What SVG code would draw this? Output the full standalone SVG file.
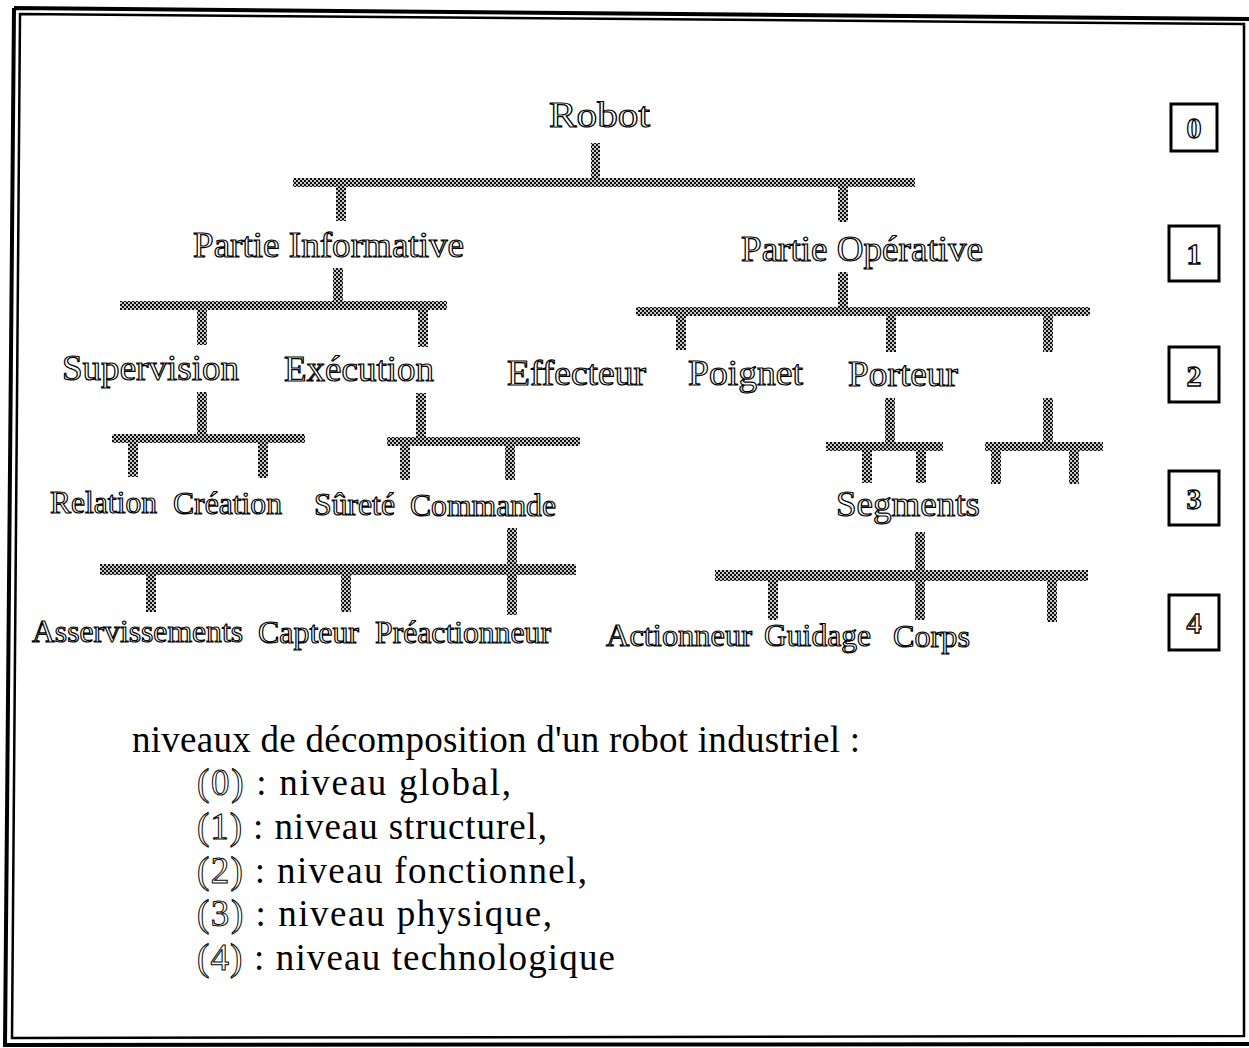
<svg xmlns="http://www.w3.org/2000/svg" width="1249" height="1048" viewBox="0 0 1249 1048">
<defs>
<pattern id="dither" width="4" height="4" patternUnits="userSpaceOnUse">
<rect width="4" height="4" fill="#c8c8c8"/>
<rect x="0" y="0" width="2" height="2" fill="#111"/>
<rect x="2" y="2" width="2" height="2" fill="#111"/>
</pattern>
</defs>
<style>
.bar{fill:url(#dither);}
.lbl{font-family:"Liberation Serif","Times New Roman",serif;fill:#fff;stroke:#000;stroke-width:1.2;}
.l1{font-size:36px;}
.l3{font-size:32px;}
.box{fill:#fff;stroke:#000;stroke-width:3;}
.dig{font-family:"Liberation Serif",serif;font-size:30px;font-weight:bold;fill:#fff;stroke:#000;stroke-width:1.3;text-anchor:middle;}
.cap{font-family:"Liberation Serif","Times New Roman",serif;font-size:37px;fill:#000;}
.ol{fill:#fff;stroke:#000;stroke-width:1;}
.frame{fill:none;stroke:#000;}
</style>
<rect width="1249" height="1048" fill="#fff"/>
<g id="frame">
<path class="frame" stroke-width="4" d="M14,8 L1249,19 M14,8 L5,1045 L1249,1044"/>
<path class="frame" stroke-width="2.5" d="M20,14 L1244,24 L1244,1036 L12,1038 Z"/>
</g>
<g id="connectors">
<rect class="bar" x="591" y="143" width="9" height="38"/>
<rect class="bar" x="293" y="178" width="622" height="9"/>
<rect class="bar" x="336" y="187" width="10" height="34"/>
<rect class="bar" x="838" y="187" width="10" height="35"/>
<rect class="bar" x="333" y="268" width="10" height="36"/>
<rect class="bar" x="120" y="301" width="327" height="9"/>
<rect class="bar" x="197" y="310" width="10" height="35"/>
<rect class="bar" x="418" y="310" width="10" height="37"/>
<rect class="bar" x="838" y="272" width="10" height="37"/>
<rect class="bar" x="636" y="307" width="454" height="9"/>
<rect class="bar" x="676" y="316" width="10" height="34"/>
<rect class="bar" x="886" y="316" width="10" height="36"/>
<rect class="bar" x="1043" y="316" width="10" height="36"/>
<rect class="bar" x="197" y="392" width="10" height="44"/>
<rect class="bar" x="112" y="434" width="193" height="9"/>
<rect class="bar" x="128" y="443" width="10" height="34"/>
<rect class="bar" x="258" y="443" width="10" height="35"/>
<rect class="bar" x="416" y="393" width="10" height="46"/>
<rect class="bar" x="387" y="437" width="193" height="9"/>
<rect class="bar" x="400" y="446" width="10" height="34"/>
<rect class="bar" x="505" y="446" width="10" height="34"/>
<rect class="bar" x="885" y="398" width="10" height="46"/>
<rect class="bar" x="826" y="442" width="117" height="9"/>
<rect class="bar" x="862" y="451" width="10" height="32"/>
<rect class="bar" x="916" y="451" width="10" height="32"/>
<rect class="bar" x="1043" y="398" width="10" height="46"/>
<rect class="bar" x="985" y="442" width="118" height="9"/>
<rect class="bar" x="991" y="451" width="10" height="33"/>
<rect class="bar" x="1069" y="451" width="10" height="33"/>
<rect class="bar" x="507" y="528" width="10" height="87"/>
<rect class="bar" x="100" y="564" width="476" height="11"/>
<rect class="bar" x="146" y="575" width="10" height="37"/>
<rect class="bar" x="341" y="575" width="10" height="37"/>
<rect class="bar" x="915" y="532" width="10" height="88"/>
<rect class="bar" x="715" y="570" width="373" height="11"/>
<rect class="bar" x="768" y="581" width="10" height="39"/>
<rect class="bar" x="1047" y="581" width="10" height="41"/>
</g>
<g id="robot"><text class="lbl l1" x="549" y="127" textLength="101" lengthAdjust="spacingAndGlyphs">Robot</text></g>
<g id="partie-informative"><text class="lbl l1" x="193" y="257" textLength="271" lengthAdjust="spacingAndGlyphs">Partie Informative</text></g>
<g id="partie-operative"><text class="lbl l1" x="741" y="261" textLength="242" lengthAdjust="spacingAndGlyphs">Partie Opérative</text></g>
<g id="supervision"><text class="lbl l1" x="62" y="380" textLength="177" lengthAdjust="spacingAndGlyphs">Supervision</text></g>
<g id="execution"><text class="lbl l1" x="284" y="381" textLength="150" lengthAdjust="spacingAndGlyphs">Exécution</text></g>
<g id="effecteur"><text class="lbl l1" x="507" y="385" textLength="139" lengthAdjust="spacingAndGlyphs">Effecteur</text></g>
<g id="poignet"><text class="lbl l1" x="688" y="385" textLength="115" lengthAdjust="spacingAndGlyphs">Poignet</text></g>
<g id="porteur"><text class="lbl l1" x="848" y="386" textLength="110" lengthAdjust="spacingAndGlyphs">Porteur</text></g>
<g id="relation"><text class="lbl l3" x="50" y="513" textLength="107" lengthAdjust="spacingAndGlyphs">Relation</text></g>
<g id="creation"><text class="lbl l3" x="173" y="514" textLength="109" lengthAdjust="spacingAndGlyphs">Création</text></g>
<g id="surete"><text class="lbl l3" x="314" y="515" textLength="81" lengthAdjust="spacingAndGlyphs">Sûreté</text></g>
<g id="commande"><text class="lbl l3" x="410" y="516" textLength="146" lengthAdjust="spacingAndGlyphs">Commande</text></g>
<g id="segments"><text class="lbl l1" x="836" y="516" textLength="144" lengthAdjust="spacingAndGlyphs">Segments</text></g>
<g id="asservissements"><text class="lbl l3" x="32" y="642" textLength="211" lengthAdjust="spacingAndGlyphs">Asservissements</text></g>
<g id="capteur"><text class="lbl l3" x="258" y="643" textLength="101" lengthAdjust="spacingAndGlyphs">Capteur</text></g>
<g id="preactionneur"><text class="lbl l3" x="375" y="643" textLength="176" lengthAdjust="spacingAndGlyphs">Préactionneur</text></g>
<g id="actionneur"><text class="lbl l3" x="606" y="646" textLength="146" lengthAdjust="spacingAndGlyphs">Actionneur</text></g>
<g id="guidage"><text class="lbl l3" x="764" y="646" textLength="107" lengthAdjust="spacingAndGlyphs">Guidage</text></g>
<g id="corps"><text class="lbl l3" x="893" y="647" textLength="77" lengthAdjust="spacingAndGlyphs">Corps</text></g>
<g id="level-0"><rect class="box" x="1171" y="104" width="46" height="47"/><text class="dig" x="1194" y="138">0</text></g>
<g id="level-1"><rect class="box" x="1169" y="226" width="50" height="55"/><text class="dig" x="1194" y="264">1</text></g>
<g id="level-2"><rect class="box" x="1169" y="347" width="50" height="55"/><text class="dig" x="1194" y="386">2</text></g>
<g id="level-3"><rect class="box" x="1169" y="471" width="50" height="54"/><text class="dig" x="1194" y="509">3</text></g>
<g id="level-4"><rect class="box" x="1169" y="595" width="50" height="55"/><text class="dig" x="1194" y="633">4</text></g>
<g id="legend">
<text class="cap" x="132" y="752" textLength="728" lengthAdjust="spacing">niveaux de décomposition d'un robot industriel :</text>
<text class="cap" x="197" y="795" textLength="314" lengthAdjust="spacing"><tspan class="ol">(0)</tspan> : niveau global,</text>
<text class="cap" x="197" y="839" textLength="350" lengthAdjust="spacing"><tspan class="ol">(1)</tspan> : niveau structurel,</text>
<text class="cap" x="197" y="883" textLength="390" lengthAdjust="spacing"><tspan class="ol">(2)</tspan> : niveau fonctionnel,</text>
<text class="cap" x="197" y="926" textLength="355" lengthAdjust="spacing"><tspan class="ol">(3)</tspan> : niveau physique,</text>
<text class="cap" x="197" y="970" textLength="418" lengthAdjust="spacing"><tspan class="ol">(4)</tspan> : niveau technologique</text>
</g>
</svg>
